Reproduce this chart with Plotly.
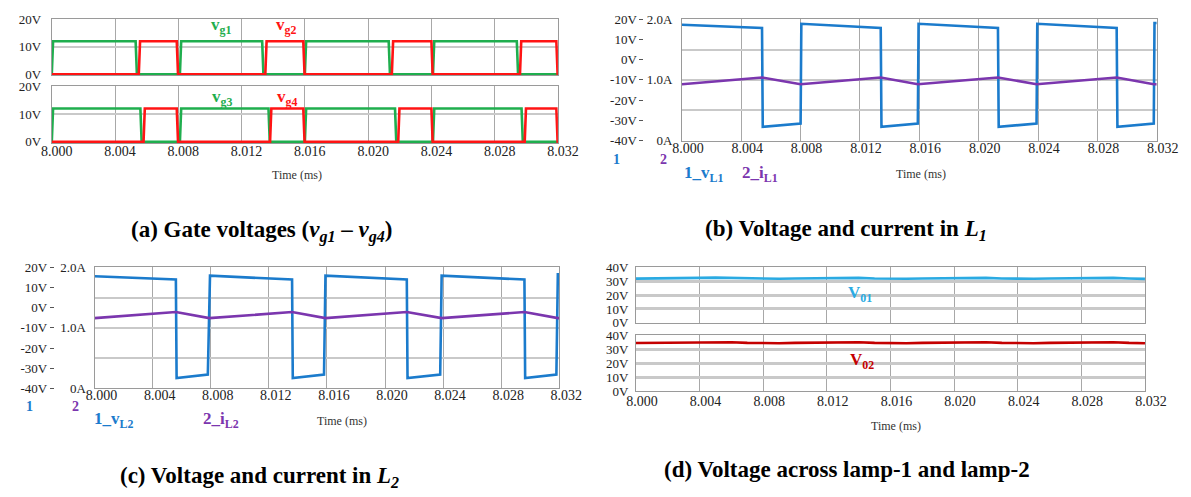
import plotly.graph_objects as go

W, H = 1191, 497


def px(x):
    return x / W


def py(y):
    return 1 - y / H


SERIF = "Liberation Serif"

# ---------------- data ----------------
x_ticks = [8.000, 8.004, 8.008, 8.012, 8.016, 8.020, 8.024, 8.028, 8.032]
t_start, t_end = 8.000, 8.032

# (a) gate voltages: switching instants (ms) and level (V)
gate_level = 12.0
vg1_on = [8.0000, 8.0081, 8.0160, 8.0241]
vg1_off = [8.0053, 8.0133, 8.0213, 8.0294]
vg2_on = [8.0055, 8.0135, 8.0215, 8.0296]
vg2_off = [8.0079, 8.0159, 8.0240, 8.0319]
vg3_on = [8.0000, 8.0081, 8.0160, 8.0241]
vg3_off = [8.0056, 8.0137, 8.0217, 8.0297]
vg4_on = [8.0058, 8.0138, 8.0219, 8.0299]
vg4_off = [8.0079, 8.0159, 8.0240, 8.0319]

# (b) inductor L1
vL1_t = [8.0000, 8.0054, 8.00545, 8.0080, 8.00805, 8.0134, 8.01345, 8.0159, 8.01595,
         8.0213, 8.02135, 8.0239, 8.02395, 8.0293, 8.02935, 8.0318, 8.03185, 8.0320]
vL1_v = [17.3, 15.7, -33.2, -31.6, 17.8, 15.7, -33.2, -31.6, 17.8,
         15.7, -33.2, -31.6, 17.8, 15.7, -33.2, -31.6, 18.2, 18.2]
iL1_t = [8.0000, 8.0054, 8.0080, 8.0134, 8.0159, 8.0213, 8.0239, 8.0293, 8.0318, 8.0320]
iL1_i = [0.93, 1.04, 0.93, 1.04, 0.93, 1.04, 0.93, 1.04, 0.93, 0.93]

# (c) inductor L2
vL2_t = [8.0000, 8.0056, 8.00565, 8.0078, 8.00795, 8.0136, 8.01365, 8.0158, 8.0159,
         8.0215, 8.02155, 8.0238, 8.0239, 8.0296, 8.02965, 8.0318, 8.0319, 8.0320]
vL2_v = [15.5, 13.9, -34.9, -33.1, 15.8, 13.9, -34.9, -33.1, 15.8,
         13.9, -34.9, -33.1, 15.8, 13.9, -34.9, -33.1, 16.5, 16.5]
iL2_t = [8.0000, 8.0056, 8.0079, 8.0136, 8.0159, 8.0215, 8.0239, 8.0296, 8.0319, 8.0320]
iL2_i = [1.16, 1.26, 1.16, 1.26, 1.16, 1.26, 1.16, 1.26, 1.16, 1.16]

# (d) lamp voltages sampled every 1 us
lamp_t = [8.000 + 0.001 * k for k in range(33)]
V01 = [31.8, 31.8, 32.1, 32.2, 32.3, 32.5, 32.3, 31.9, 31.7, 31.7, 31.9, 32.1, 32.2,
       32.5, 32.3, 31.9, 31.7, 31.7, 31.9, 32.1, 32.3, 32.5, 32.3, 31.9, 31.7, 31.7,
       31.9, 32.1, 32.3, 32.6, 32.3, 31.9, 31.6]
V02 = [34.3, 34.4, 34.6, 34.7, 34.8, 35.2, 34.9, 34.4, 34.2, 34.2, 34.4, 34.6, 34.7,
       35.1, 34.9, 34.4, 34.2, 34.2, 34.4, 34.6, 34.8, 35.2, 34.9, 34.4, 34.2, 34.2,
       34.4, 34.6, 34.8, 35.2, 34.9, 34.4, 34.2]

gate_ticks = [0, 10, 20]
gate_ticktext = ["0V", "10V", "20V"]
v_ticks = [-40, -30, -20, -10, 0, 10, 20]
v_ticktext = ["-40V", "-30V", "-20V", "-10V", "0V", "10V", "20V"]
i_ticks = [0, 0.5, 1.0, 1.5, 2.0]
i_ticktext = ["0A", "", "1.0A", "", "2.0A"]
lamp_ticks = [0, 10, 20, 30, 40]
lamp_ticktext = ["0V", "10V", "20V", "30V", "40V"]

# ---------------- colours ----------------
GREEN = "#1fae4e"
RED = "#ff1414"
BLUE = "#1b7bcc"
PURPLE = "#7b36ae"
CYAN = "#2aaae2"
DRED = "#c40000"
BORDER = "#9a9a9a"
GRID = "#c9c9c9"
TXT = "#222222"


def pulses(on, off, level, ramp=0.00008):
    t, v = [t_start], [0.0]
    for a, b in zip(on, off):
        t += [a, a + ramp, b, b + ramp]
        v += [0.0, level, level, 0.0]
    t.append(t_end)
    v.append(0.0)
    return t, v


fig = go.Figure()
lw = 2.6

# (a)
for on, off, col, ax in [(vg1_on, vg1_off, GREEN, ("x", "y")),
                         (vg2_on, vg2_off, RED, ("x", "y")),
                         (vg3_on, vg3_off, GREEN, ("x2", "y2")),
                         (vg4_on, vg4_off, RED, ("x2", "y2"))]:
    t, v = pulses(on, off, gate_level)
    fig.add_trace(go.Scatter(x=t, y=v, mode="lines", line=dict(color=col, width=lw),
                             xaxis=ax[0], yaxis=ax[1], showlegend=False, hoverinfo="skip"))

# (b)
fig.add_trace(go.Scatter(x=vL1_t, y=vL1_v, mode="lines", line=dict(color=BLUE, width=lw),
                         xaxis="x3", yaxis="y3", showlegend=False))
fig.add_trace(go.Scatter(x=iL1_t, y=iL1_i, mode="lines", line=dict(color=PURPLE, width=lw),
                         xaxis="x3", yaxis="y4", showlegend=False))
# (c)
fig.add_trace(go.Scatter(x=vL2_t, y=vL2_v, mode="lines", line=dict(color=BLUE, width=lw),
                         xaxis="x4", yaxis="y5", showlegend=False))
fig.add_trace(go.Scatter(x=iL2_t, y=iL2_i, mode="lines", line=dict(color=PURPLE, width=lw),
                         xaxis="x4", yaxis="y6", showlegend=False))
# (d)
fig.add_trace(go.Scatter(x=lamp_t, y=V01, mode="lines", line=dict(color=CYAN, width=lw),
                         xaxis="x5", yaxis="y7", showlegend=False))
fig.add_trace(go.Scatter(x=lamp_t, y=V02, mode="lines", line=dict(color=DRED, width=lw),
                         xaxis="x6", yaxis="y8", showlegend=False))

tickfont_y = dict(family=SERIF, size=13, color=TXT)
tickfont_x = dict(family=SERIF, size=14, color=TXT)


def xax(x0, x1, anchor, labels=True, shift=6, standoff=-4):
    return dict(domain=[px(x0), px(x1)], anchor=anchor, range=[t_start, t_end],
                tickvals=x_ticks, tickformat=".3f", showticklabels=labels,
                tickfont=tickfont_x, showgrid=True, gridcolor="#a8a8a8", gridwidth=1,
                showline=True, linecolor=BORDER, linewidth=1, mirror=True,
                zeroline=False, ticks="", fixedrange=True,
                ticklabelshift=shift, ticklabelstandoff=standoff)


def yax(y0, y1, rng, tv, tt, anchor, **kw):
    d = dict(domain=[py(y1), py(y0)], anchor=anchor, range=rng, tickvals=tv, ticktext=tt,
             tickfont=tickfont_y, showgrid=True, gridcolor=GRID, gridwidth=1.5,
             showline=True, linecolor=BORDER, linewidth=1, mirror=True,
             zeroline=False, ticks="", fixedrange=True)
    d.update(kw)
    return d


layout = dict(
    width=W, height=H, margin=dict(l=0, r=0, t=0, b=0),
    paper_bgcolor="white", plot_bgcolor="white", showlegend=False,
    # (a)
    xaxis=xax(42, 563, "y", labels=False),
    yaxis=yax(12.7, 70.5, [-0.4, 20], gate_ticks, gate_ticktext, "x", ticklabelstandoff=7),
    xaxis2=xax(42, 563, "y2", shift=5, standoff=-5),
    yaxis2=yax(81.7, 140.2, [-0.4, 20], gate_ticks, gate_ticktext, "x2", ticklabelstandoff=7),
    # (b)
    xaxis3=xax(690.6, 1179.4, "y3", shift=6, standoff=-5),
    yaxis3=yax(12.7, 137.7, [-40, 20], v_ticks, v_ticktext, "free", position=px(651),
               showgrid=False, showline=False, ticks="outside", ticklen=4,
               tickcolor="#555", tickwidth=1),
    yaxis4=yax(12.7, 137.7, [0, 2], i_ticks, i_ticktext, "x3", overlaying="y3",
               side="left", ticklabelstandoff=6),
    # (c)
    xaxis4=xax(86, 564.4, "y5", shift=7, standoff=-6),
    yaxis5=yax(268.3, 393.3, [-40, 20], v_ticks, v_ticktext, "free", position=px(44),
               showgrid=False, showline=False, ticks="outside", ticklen=4,
               tickcolor="#555", tickwidth=1),
    yaxis6=yax(268.3, 393.3, [0, 2], i_ticks, i_ticktext, "x4", overlaying="y5",
               side="left", ticklabelstandoff=5),
    # (d)
    xaxis5=xax(643.3, 1167.3, "y7", labels=False),
    yaxis7=yax(268.3, 325.7, [0, 40], lamp_ticks, lamp_ticktext, "x5", ticklabelstandoff=4,
               gridwidth=2.5),
    xaxis6=xax(643.3, 1167.3, "y8", shift=6, standoff=-3),
    yaxis8=yax(338.3, 396, [0, 40], lamp_ticks, lamp_ticktext, "x6", ticklabelstandoff=4,
               gridwidth=2.5),
)
fig.update_layout(**layout)

anns = []


def ann(x, y, text, size, color, **kw):
    d = dict(x=px(x), y=py(y), xref="paper", yref="paper", text=text, showarrow=False,
             xanchor="center", yanchor="middle",
             font=dict(family=SERIF, size=size, color=color))
    d.update(kw)
    anns.append(d)


# signal labels (a)
ann(216, 20, "<b>v<sub>g1</sub></b>", 17, GREEN)
ann(283, 20, "<b>v<sub>g2</sub></b>", 17, RED)
ann(217, 94, "<b>v<sub>g3</sub></b>", 17, GREEN)
ann(284, 94, "<b>v<sub>g4</sub></b>", 17, RED)

# legends (b), (c)
ann(623, 157, "<b>1</b>", 14, BLUE)
ann(672, 157, "<b>2</b>", 14, PURPLE)
ann(713, 172, "<b>1_v<sub>L1</sub></b>", 17, BLUE)
ann(771, 172, "<b>2_i<sub>L1</sub></b>", 17, PURPLE)
ann(19, 412, "<b>1</b>", 14, BLUE)
ann(66, 412, "<b>2</b>", 14, PURPLE)
ann(106, 426, "<b>1_v<sub>L2</sub></b>", 17, BLUE)
ann(216, 426, "<b>2_i<sub>L2</sub></b>", 17, PURPLE)

# (d) labels
ann(874, 296, "<b>V<sub>01</sub></b>", 17, CYAN)
ann(876, 365, "<b>V<sub>02</sub></b>", 17, DRED)

# time axis titles
ann(294, 173, "Time (ms)", 12, "#333")
ann(937, 172, "Time (ms)", 12, "#333")
ann(341, 427, "Time (ms)", 12, "#333")
ann(911, 432, "Time (ms)", 12, "#333")

# captions
ann(258, 231, "<b>(a) Gate voltages (<i>v<sub>g1</sub></i> – <i>v<sub>g4</sub></i>)</b>", 23, "black")
ann(860, 230, "<b>(b) Voltage and current in <i>L<sub>1</sub></i></b>", 23, "black")
ann(256, 485, "<b>(c) Voltage and current in <i>L<sub>2</sub></i></b>", 23, "black")
ann(861, 477, "<b>(d) Voltage across lamp-1 and lamp-2</b>", 23, "black")

fig.update_layout(annotations=anns)
fig.write_html("out.html")
